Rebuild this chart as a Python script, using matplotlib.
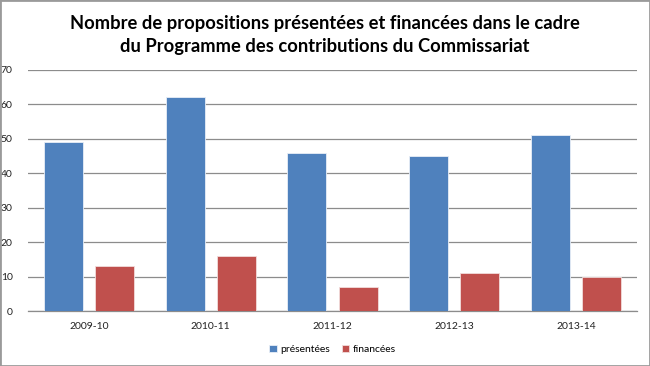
import matplotlib.pyplot as plt
import numpy as np

plt.rcParams['font.family'] = ['Lato', 'DejaVu Sans']

years = ['2009-10', '2010-11', '2011-12', '2012-13', '2013-14']
presentees = [49, 62, 46, 45, 51]
financees = [13, 16, 7, 11, 10]

blue = '#4f81bd'
red = '#c0504d'

fig = plt.figure(figsize=(6.5, 3.66), dpi=100)
ax = fig.add_axes([0.043, 0.150, 0.937, 0.659])

x = np.arange(len(years))
w = 0.32
ax.bar(x - 0.21, presentees, w, color=blue, edgecolor='#e8eef7', linewidth=0.6,
       label='présentées', zorder=3)
ax.bar(x + 0.21, financees, w, color=red, edgecolor='#f2dcdb', linewidth=0.6,
       label='financées', zorder=3)

ax.set_xlim(-0.5, len(years) - 0.5)
ax.set_ylim(0, 70)
ax.set_yticks(range(0, 71, 10))
ax.set_xticks(x)
ax.set_xticklabels(years)
ax.tick_params(axis='both', labelsize=7.5, length=0, colors='#222222')
ax.tick_params(axis='x', pad=8)
ax.tick_params(axis='y', pad=11)
ax.grid(axis='y', color='#8c8c8c', linewidth=0.9, zorder=0)
for s in ['top', 'right', 'left']:
    ax.spines[s].set_visible(False)
ax.spines['bottom'].set_color('#8c8c8c')
ax.spines['bottom'].set_linewidth(0.9)

fig.suptitle('Nombre de propositions présentées et financées dans le cadre\n'
             'du Programme des contributions du Commissariat',
             fontsize=13.2, fontweight='bold', y=0.96, linespacing=1.45)

ax.legend(loc='upper center', bbox_to_anchor=(0.5, -0.1), ncol=2, frameon=False,
          fontsize=7.5, handlelength=0.7, handleheight=0.7, handletextpad=0.3,
          columnspacing=1.2)

fig.patches.append(plt.Rectangle((0, 0), 1, 1, transform=fig.transFigure,
                                 fill=False, edgecolor='#9a9a9a', linewidth=2))

fig.savefig('out.png', dpi=100)
